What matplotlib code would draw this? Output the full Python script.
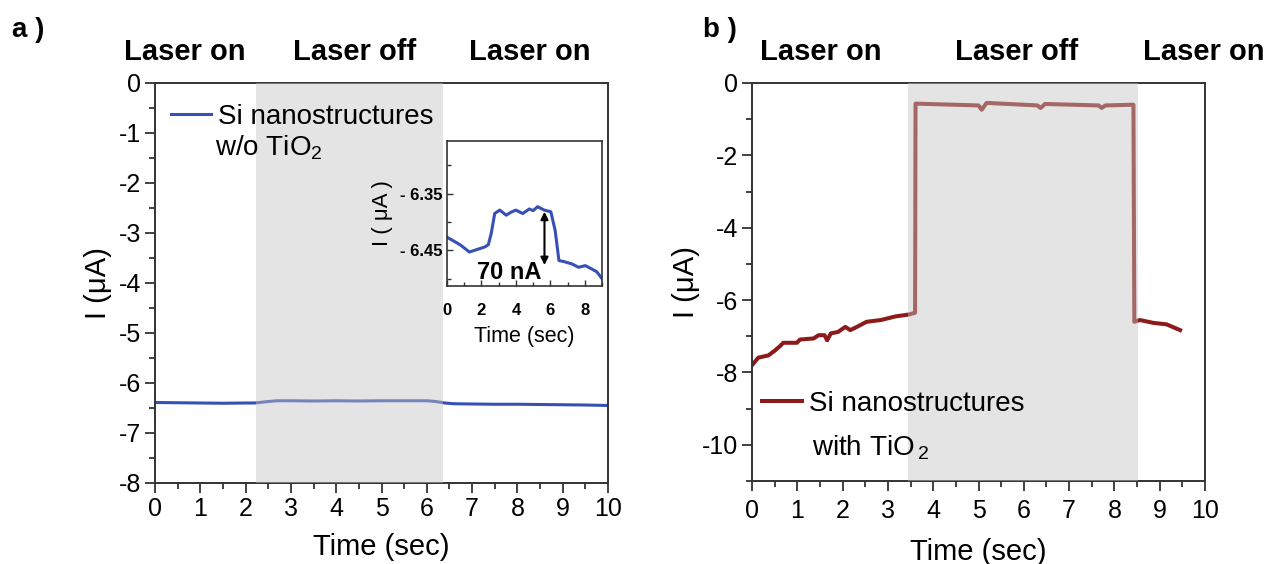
import matplotlib
matplotlib.use("Agg")
import matplotlib.pyplot as plt
import numpy as np
from matplotlib.ticker import MultipleLocator

plt.rcParams['font.family'] = ['Liberation Sans', 'DejaVu Sans']
plt.rcParams['axes.unicode_minus'] = False
plt.rcParams['mathtext.fontset'] = 'custom'
plt.rcParams['mathtext.rm'] = 'Liberation Sans'

# panel a: Si nanostructures w/o TiO2
t_a = [0, 0.5, 1.0, 1.5, 2.0, 2.2, 2.5, 2.7, 3.0, 3.5, 4.0, 4.5, 5.0, 5.5, 6.0,
       6.2, 6.4, 6.6, 7.0, 7.5, 8.0, 8.5, 9.0, 9.5, 10.0]
i_a = [-6.39, -6.395, -6.40, -6.405, -6.40, -6.40, -6.37, -6.355, -6.355, -6.36,
       -6.355, -6.36, -6.355, -6.355, -6.355, -6.37, -6.40, -6.415, -6.42, -6.425,
       -6.425, -6.43, -6.435, -6.44, -6.45]
off_a = (2.22, 6.35)

# inset of panel a
t_in = [0, 0.3, 0.8, 1.3, 1.6, 1.9, 2.2, 2.4, 2.57, 2.77, 3.06, 3.44, 3.7, 4.0,
        4.4, 4.78, 5.0, 5.26, 5.65, 6.03, 6.28, 6.5, 6.8, 7.25, 7.64, 8.03, 8.41, 8.7, 9.0]
i_in = [-6.427, -6.432, -6.441, -6.453, -6.450, -6.447, -6.444, -6.440, -6.420,
        -6.385, -6.379, -6.388, -6.383, -6.379, -6.385, -6.377, -6.380, -6.373,
        -6.379, -6.382, -6.415, -6.468, -6.470, -6.474, -6.480, -6.477, -6.483,
        -6.488, -6.500]
arrow_t = 5.66
arrow_top, arrow_bot = -6.382, -6.476

# panel b: Si nanostructures with TiO2
t_b = [0, 0.14, 0.36, 0.5, 0.62, 0.69, 0.99, 1.06, 1.36, 1.47, 1.6, 1.66, 1.74,
       1.9, 2.06, 2.17, 2.3, 2.53, 2.85, 3.17, 3.46, 3.6, 3.61, 5.0, 5.07, 5.18,
       6.3, 6.37, 6.47, 7.65, 7.72, 7.8, 8.42, 8.44, 8.56, 8.86, 9.15, 9.3, 9.45]
i_b = [-7.8, -7.59, -7.53, -7.4, -7.27, -7.18, -7.18, -7.09, -7.06, -6.97, -6.97,
       -7.11, -6.92, -6.88, -6.74, -6.83, -6.75, -6.6, -6.55, -6.45, -6.4, -6.35,
       -0.57, -0.62, -0.74, -0.55, -0.62, -0.69, -0.58, -0.62, -0.69, -0.62,
       -0.6, -6.6, -6.55, -6.63, -6.67, -6.75, -6.83]
off_b = (3.44, 8.52)

W, H = 1270, 564
fig = plt.figure(figsize=(12.7, 5.64), dpi=100)

def px_box(l, t, r, b):
    return [l / W, 1 - b / H, (r - l) / W, (b - t) / H]

spine_c = '#333333'

def style(ax):
    for s in ax.spines.values():
        s.set_color(spine_c)
        s.set_linewidth(1.4)
    ax.tick_params(which='both', direction='out', color=spine_c, width=1.3)
    ax.tick_params(which='major', length=7, labelsize=18, pad=3)
    ax.tick_params(which='minor', length=4)
    ax.tick_params(axis='y', which='both', right=False)
    ax.tick_params(axis='x', which='both', top=False)

# ---- panel a
ax1 = fig.add_axes(px_box(155, 83, 608, 483))
ax1.plot(t_a, i_a, color='#3650b4', lw=2.2, zorder=2)
ax1.axvspan(*off_a, color='#c4c4c4', alpha=0.45, lw=0, zorder=3)
ax1.set_xlim(0, 10)
ax1.set_ylim(-8, 0)
ax1.xaxis.set_major_locator(MultipleLocator(1))
ax1.xaxis.set_minor_locator(MultipleLocator(0.5))
ax1.yaxis.set_major_locator(MultipleLocator(1))
ax1.yaxis.set_minor_locator(MultipleLocator(0.5))
style(ax1)
ax1.set_xlabel('Time (sec)', fontsize=21, labelpad=9)
ax1.set_ylabel('I (μA)', fontsize=21, labelpad=5)
ax1.legend([ax1.lines[0]], ['Si nanostructures'], loc='center left',
           bbox_to_anchor=(0.035, 0.915), frameon=False, fontsize=20,
           handlelength=1.45, handletextpad=0.25, borderaxespad=0, borderpad=0)
ax1.text(0.132, 0.8375, 'w/o TiO$_2$', transform=ax1.transAxes, fontsize=20,
         ha='left', va='center', zorder=5)

# inset
axi = fig.add_axes(px_box(447, 141, 602, 286))
axi.plot(t_in, i_in, color='#3650b4', lw=2.2)
axi.set_xlim(0, 9)
axi.set_ylim(-6.513, -6.257)
axi.set_xticks([0, 2, 4, 6, 8])
axi.set_xticklabels(['0', '2', '4', '6', '8'], fontweight='bold')
axi.xaxis.set_minor_locator(MultipleLocator(1))
axi.set_yticks([-6.35, -6.45])
axi.set_yticklabels(['- 6.35', '- 6.45'], fontweight='bold')
axi.set_yticks([-6.30, -6.40, -6.50], minor=True)
for s in axi.spines.values():
    s.set_color(spine_c)
    s.set_linewidth(1.2)
axi.tick_params(which='both', direction='in', color=spine_c, width=1.0)
axi.tick_params(which='major', length=4, labelsize=12, pad=3)
axi.tick_params(axis='x', which='major', pad=12)
axi.tick_params(which='minor', length=3)
axi.set_xlabel('Time (sec)', fontsize=15.5, labelpad=6)
axi.set_ylabel('I ( μA )', fontsize=16, labelpad=5)
axi.annotate('', xy=(arrow_t, arrow_bot), xytext=(arrow_t, arrow_top),
             arrowprops=dict(arrowstyle='<|-|>', color='black', lw=1.5,
                             mutation_scale=11, shrinkA=0, shrinkB=0))
axi.text(3.6, -6.49, '70 nA', fontsize=17, fontweight='bold', ha='center', va='center')

# ---- panel b
ax2 = fig.add_axes(px_box(752, 83, 1205, 481))
ax2.plot(t_b, i_b, color='#8c1a1a', lw=2.9, zorder=2)
ax2.axvspan(*off_b, color='#c4c4c4', alpha=0.45, lw=0, zorder=3)
ax2.set_xlim(0, 10)
ax2.set_ylim(-11, 0)
ax2.xaxis.set_major_locator(MultipleLocator(1))
ax2.xaxis.set_minor_locator(MultipleLocator(0.5))
ax2.set_yticks([0, -2, -4, -6, -8, -10])
ax2.yaxis.set_minor_locator(MultipleLocator(1))
style(ax2)
ax2.tick_params(axis='x', which='major', pad=6)
ax2.set_xlabel('Time (sec)', fontsize=21, labelpad=11)
ax2.set_ylabel('I (μA)', fontsize=21, labelpad=1)
ax2.legend([ax2.lines[0]], ['Si nanostructures'], loc='center left',
           bbox_to_anchor=(0.022, 0.193), frameon=False, fontsize=20,
           handlelength=1.45, handletextpad=0.25, borderaxespad=0, borderpad=0)
ax2.text(0.132, 0.083, 'with TiO$_{\\,2}$', transform=ax2.transAxes, fontsize=20,
         ha='left', va='center', zorder=5)

# header labels
for x, s in [(185, 'Laser on'), (355, 'Laser off'), (530, 'Laser on'),
             (821, 'Laser on'), (1017, 'Laser off'), (1204, 'Laser on')]:
    fig.text(x / W, 1 - 52 / H, s, fontsize=21, fontweight='bold', ha='center', va='center')
fig.text(28 / W, 1 - 30 / H, 'a )', fontsize=20, fontweight='bold', ha='center', va='center')
fig.text(720 / W, 1 - 30 / H, 'b )', fontsize=20, fontweight='bold', ha='center', va='center')

fig.savefig('out.png', dpi=100)
